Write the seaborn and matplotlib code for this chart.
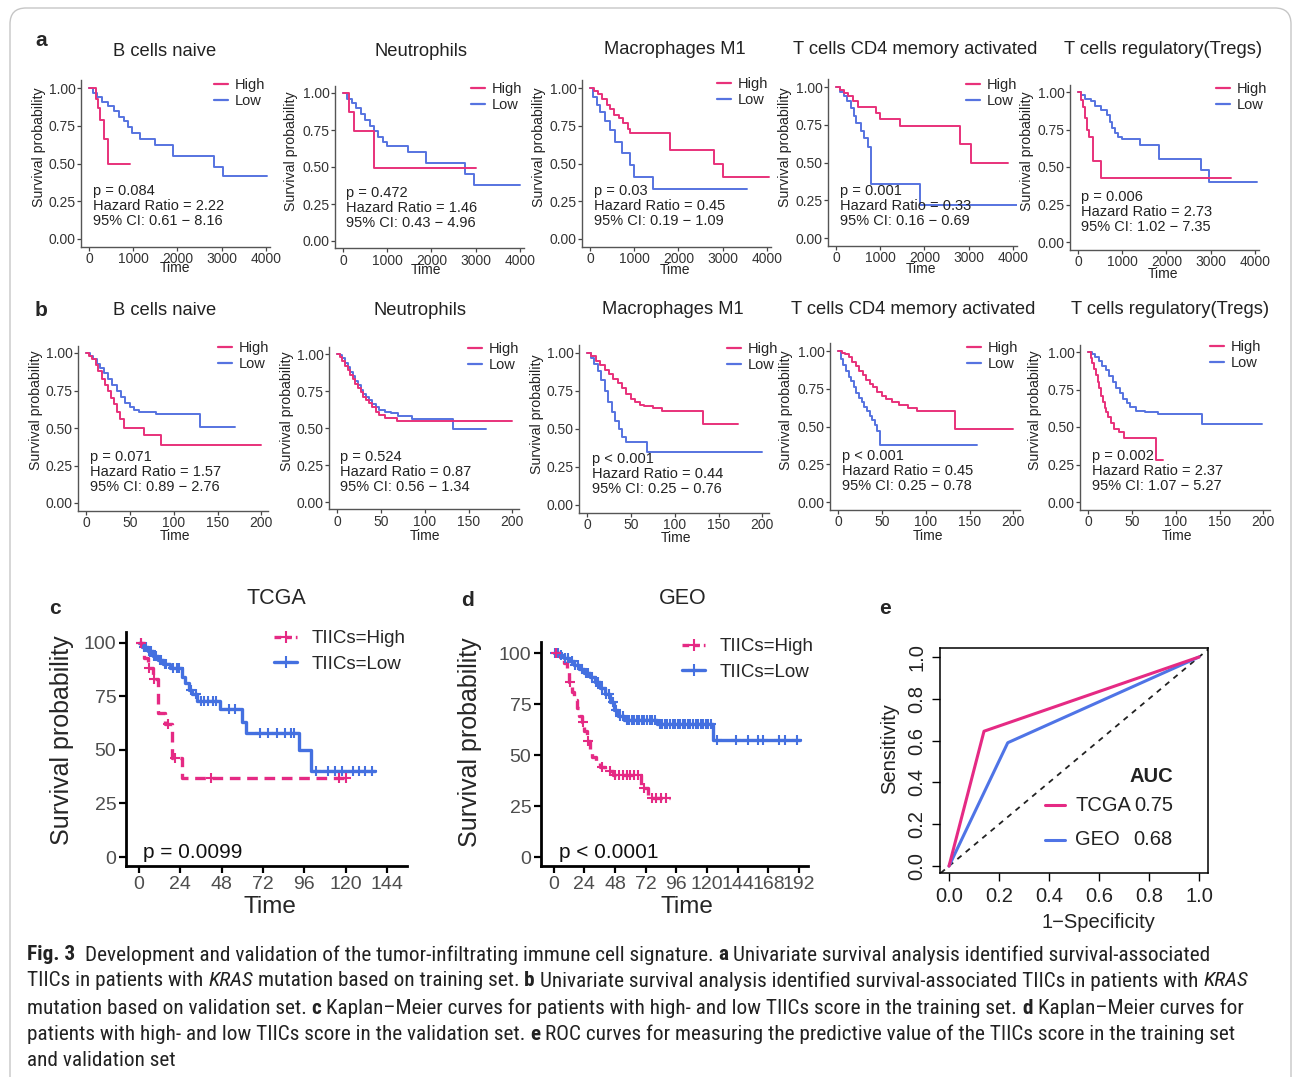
import numpy as np
import pandas as pd
import matplotlib
matplotlib.use("Agg")
import matplotlib.pyplot as plt
import seaborn as sns
from matplotlib.patches import FancyBboxPatch
from matplotlib.lines import Line2D
from matplotlib import font_manager as fm

# ------------------------------------------------------------------ data
CELL_TITLES = ["B cells naive", "Neutrophils", "Macrophages M1",
               "T cells CD4 memory activated", "T cells regulatory(Tregs)"]

# row a (training set), time in days
A1_HIGH_T = [0, 150, 200, 250, 330, 420, 920]
A1_HIGH_S = [1.00, 0.93, 0.87, 0.79, 0.66, 0.50, 0.50]
A1_LOW_T = [0, 80, 180, 300, 420, 560, 680, 790, 880, 980, 1150, 1500, 1900, 2830, 3030, 4020]
A1_LOW_S = [1.00, 0.97, 0.94, 0.91, 0.88, 0.85, 0.81, 0.78, 0.74, 0.70, 0.66, 0.62, 0.55, 0.48, 0.42, 0.42]

A2_HIGH_T = [0, 130, 240, 700, 3015]
A2_HIGH_S = [1.00, 0.87, 0.74, 0.49, 0.49]
A2_LOW_T = [0, 100, 200, 300, 400, 500, 600, 700, 800, 900, 1000, 1460, 1880, 2770, 2960, 4000]
A2_LOW_S = [1.00, 0.96, 0.93, 0.90, 0.86, 0.82, 0.78, 0.74, 0.70, 0.67, 0.64, 0.60, 0.53, 0.45, 0.38, 0.38]

A3_HIGH_T = [0, 80, 180, 280, 380, 450, 550, 650, 750, 850, 900, 1800, 2800, 3000, 4050]
A3_HIGH_S = [1.00, 0.98, 0.96, 0.93, 0.89, 0.86, 0.82, 0.80, 0.77, 0.73, 0.70, 0.59, 0.50, 0.41, 0.41]
A3_LOW_T = [0, 75, 150, 225, 340, 450, 570, 720, 900, 1000, 1430, 3550]
A3_LOW_S = [1.00, 0.94, 0.89, 0.84, 0.78, 0.72, 0.64, 0.57, 0.49, 0.41, 0.33, 0.33]

A4_HIGH_T = [0, 80, 180, 280, 380, 500, 900, 1000, 1450, 2800, 3050, 3900]
A4_HIGH_S = [1.00, 0.98, 0.96, 0.94, 0.91, 0.87, 0.83, 0.79, 0.745, 0.62, 0.50, 0.50]
A4_LOW_T = [0, 90, 170, 250, 330, 400, 450, 560, 640, 720, 800, 1900, 4100]
A4_LOW_S = [1.00, 0.97, 0.94, 0.905, 0.86, 0.81, 0.76, 0.71, 0.66, 0.60, 0.36, 0.22, 0.22]

A5_HIGH_T = [0, 60, 110, 160, 210, 260, 340, 530, 3470]
A5_HIGH_S = [1.00, 0.95, 0.90, 0.83, 0.75, 0.70, 0.54, 0.43, 0.43]
A5_LOW_T = [0, 76, 150, 300, 380, 530, 650, 720, 760, 840, 910, 990, 1410, 1830, 2780, 2970, 4040]
A5_LOW_S = [1.00, 0.98, 0.955, 0.94, 0.91, 0.88, 0.845, 0.80, 0.76, 0.73, 0.70, 0.69, 0.645, 0.555, 0.48, 0.40, 0.40]

A_P = ["p = 0.084", "p = 0.472", "p = 0.03", "p = 0.001", "p = 0.006"]
A_HR = ["2.22", "1.46", "0.45", "0.33", "2.73"]
A_CI = ["0.61 \u2212 8.16", "0.43 \u2212 4.96", "0.19 \u2212 1.09", "0.16 \u2212 0.69", "1.02 \u2212 7.35"]

# row b (validation set), time in months
B1_HIGH_T = [0, 3, 7, 11, 14, 18, 22, 25, 28, 32, 35, 39, 43, 66, 86, 200]
B1_HIGH_S = [1.00, 0.98, 0.96, 0.92, 0.88, 0.83, 0.79, 0.75, 0.70, 0.66, 0.61, 0.56, 0.50, 0.455, 0.39, 0.39]
B1_LOW_T = [0, 4, 8, 12, 16, 20, 25, 30, 35, 40, 45, 50, 55, 60, 80, 130, 170]
B1_LOW_S = [1.00, 0.98, 0.96, 0.93, 0.90, 0.87, 0.83, 0.79, 0.75, 0.71, 0.67, 0.64, 0.62, 0.61, 0.595, 0.51, 0.51]

B2_HIGH_T = [0, 3, 6, 9, 12, 15, 18, 21, 24, 27, 30, 33, 36, 40, 44, 48, 55, 68, 200]
B2_HIGH_S = [1.00, 0.98, 0.95, 0.92, 0.89, 0.86, 0.83, 0.80, 0.77, 0.74, 0.71, 0.69, 0.67, 0.64, 0.61, 0.59, 0.57, 0.55, 0.55]
B2_LOW_T = [0, 3, 6, 9, 12, 15, 18, 21, 24, 27, 30, 33, 36, 40, 44, 48, 55, 62, 70, 85, 132, 170]
B2_LOW_S = [1.00, 0.99, 0.97, 0.94, 0.91, 0.88, 0.85, 0.82, 0.79, 0.76, 0.73, 0.71, 0.69, 0.66, 0.64, 0.62, 0.61, 0.60, 0.58, 0.56, 0.49, 0.49]

B3_HIGH_T = [0, 5, 10, 15, 20, 25, 30, 35, 40, 45, 50, 55, 60, 65, 75, 85, 132, 172]
B3_HIGH_S = [1.00, 0.98, 0.95, 0.92, 0.89, 0.86, 0.83, 0.80, 0.77, 0.73, 0.70, 0.68, 0.66, 0.65, 0.64, 0.62, 0.535, 0.535]
B3_LOW_T = [0, 4, 8, 12, 16, 20, 24, 28, 32, 36, 40, 45, 68, 200]
B3_LOW_S = [1.00, 0.97, 0.93, 0.88, 0.82, 0.75, 0.68, 0.61, 0.55, 0.50, 0.45, 0.415, 0.35, 0.35]

B4_HIGH_T = [0, 4, 8, 12, 16, 20, 24, 28, 32, 36, 40, 45, 50, 55, 62, 70, 80, 90, 133, 200]
B4_HIGH_S = [1.00, 0.99, 0.98, 0.96, 0.93, 0.90, 0.87, 0.84, 0.81, 0.78, 0.76, 0.73, 0.70, 0.68, 0.66, 0.645, 0.625, 0.605, 0.485, 0.485]
B4_LOW_T = [0, 3, 6, 9, 12, 15, 18, 21, 24, 27, 30, 33, 36, 39, 42, 45, 48, 158]
B4_LOW_S = [1.00, 0.95, 0.91, 0.87, 0.83, 0.80, 0.76, 0.72, 0.69, 0.66, 0.63, 0.60, 0.57, 0.54, 0.51, 0.47, 0.375, 0.375]

B5_HIGH_T = [0, 3, 5, 7, 9, 11, 13, 15, 17, 19, 21, 23, 26, 30, 35, 41, 77, 85]
B5_HIGH_S = [1.00, 0.96, 0.93, 0.89, 0.85, 0.80, 0.76, 0.71, 0.67, 0.63, 0.60, 0.57, 0.53, 0.49, 0.47, 0.43, 0.28, 0.28]
B5_LOW_T = [0, 4, 8, 12, 16, 20, 24, 28, 32, 36, 40, 44, 48, 55, 65, 80, 130, 198]
B5_LOW_S = [1.00, 0.99, 0.97, 0.94, 0.91, 0.88, 0.84, 0.80, 0.76, 0.73, 0.69, 0.66, 0.635, 0.61, 0.60, 0.585, 0.52, 0.52]

B_P = ["p = 0.071", "p = 0.524", "p < 0.001", "p < 0.001", "p = 0.002"]
B_HR = ["1.57", "0.87", "0.44", "0.45", "2.37"]
B_CI = ["0.89 \u2212 2.76", "0.56 \u2212 1.34", "0.25 \u2212 0.76", "0.25 \u2212 0.78", "1.07 \u2212 5.27"]

# panel c (TCGA)
C_HIGH_T = [0, 3, 5, 8, 11, 15, 19, 25, 121]
C_HIGH_S = [100, 93, 88, 83, 67, 62, 46, 37, 37]
C_HIGH_CENS = [1, 6, 9, 17, 21, 42, 116, 120]
C_LOW_T = [0, 2, 5, 8, 11, 14, 18, 25, 27, 29, 31, 34, 47, 60, 62, 93, 100, 137]
C_LOW_S = [100, 98, 96, 94, 92, 90, 88, 84, 81, 78, 76, 73, 69, 63, 58, 50, 40, 40]
C_LOW_CENS = [1, 3, 4, 6, 7, 9, 10, 12, 13, 15, 16, 20, 22, 23, 30, 33, 36, 38, 40, 43, 45,
              52, 56, 70, 75, 80, 85, 88, 90, 103, 110, 114, 118, 124, 128, 131, 135]

# panel d (GEO)
D_HIGH_T = [0, 5, 8, 10, 12, 14, 16, 18, 20, 22, 24, 26, 28, 30, 33, 36, 40, 46, 68, 74, 91]
D_HIGH_S = [100, 98, 95, 91, 86, 81, 77, 73, 69, 66, 62, 57, 52, 49, 46, 44, 42, 40, 34, 29, 29]
D_HIGH_CENS = [2, 13, 23, 27, 38, 44, 48, 51, 54, 57, 60, 63, 66, 71, 77, 80, 84, 88]
D_LOW_T = [0, 4, 8, 12, 16, 20, 24, 28, 32, 36, 40, 44, 47, 50, 55, 81, 125, 193]
D_LOW_S = [100, 99, 97.5, 96, 94, 92, 90, 88, 86, 83, 80, 76, 72, 69, 67, 65, 57.5, 57.5]
D_LOW_CENS = [1, 3, 6, 9, 11, 14, 17, 19, 22, 25, 27, 30, 33, 35, 38, 41, 43, 46, 49, 52, 54,
              57, 59, 61, 63, 65, 67, 69, 71, 73, 75, 77, 79, 83, 85, 87, 89, 91, 93, 95, 97,
              99, 101, 103, 105, 107, 109, 111, 113, 115, 117, 119, 121, 123, 128, 143, 152,
              160, 164, 176, 181, 190]

# panel e (ROC)
ROC_TCGA_FPR = [0.0, 0.14, 1.0]
ROC_TCGA_TPR = [0.0, 0.645, 1.0]
ROC_GEO_FPR = [0.0, 0.235, 1.0]
ROC_GEO_TPR = [0.0, 0.59, 1.0]
AUC_NAMES = ["TCGA", "GEO"]
AUC_VALUES = ["0.75", "0.68"]

# ------------------------------------------------------------------ style
W, H = 1293, 1077
sns.set_theme(style="ticks")
plt.rcParams["font.family"] = ["Liberation Sans", "DejaVu Sans"]
plt.rcParams["axes.linewidth"] = 1.0

HIGH_COL = "#E8317A"
LOW_COL = "#5673E0"
C_HIGH = "#E52A84"
C_LOW = "#4470E0"
GREY_TXT = "#4D4D4D"

fig = plt.figure(figsize=(W / 100, H / 100), dpi=100)
fig.patch.set_facecolor("white")


def ftext(x, y, s, **kw):
    return fig.text(x / W, 1 - y / H, s, **kw)


def add_axes_px(l, r, t, b):
    return fig.add_axes([l / W, 1 - b / H, (r - l) / W, (b - t) / H])


def step_value(T, S, t):
    idx = np.searchsorted(np.asarray(T), t, side="right") - 1
    return np.asarray(S)[idx]


# ------------------------------------------------------------------ rows a & b
ROW_A = [(A1_HIGH_T, A1_HIGH_S, A1_LOW_T, A1_LOW_S),
         (A2_HIGH_T, A2_HIGH_S, A2_LOW_T, A2_LOW_S),
         (A3_HIGH_T, A3_HIGH_S, A3_LOW_T, A3_LOW_S),
         (A4_HIGH_T, A4_HIGH_S, A4_LOW_T, A4_LOW_S),
         (A5_HIGH_T, A5_HIGH_S, A5_LOW_T, A5_LOW_S)]
ROW_B = [(B1_HIGH_T, B1_HIGH_S, B1_LOW_T, B1_LOW_S),
         (B2_HIGH_T, B2_HIGH_S, B2_LOW_T, B2_LOW_S),
         (B3_HIGH_T, B3_HIGH_S, B3_LOW_T, B3_LOW_S),
         (B4_HIGH_T, B4_HIGH_S, B4_LOW_T, B4_LOW_S),
         (B5_HIGH_T, B5_HIGH_S, B5_LOW_T, B5_LOW_S)]

layout = {
    "a": dict(x0=[89, 343, 590, 836, 1078], y1=[88, 93, 88, 87, 92], y0=[239, 241, 239, 238, 242],
              sc=0.0442, xlim=(-180, 4090), xticks=[0, 1000, 2000, 3000, 4000],
              title_xy=[(165, 52), (421, 52), (675, 50), (915, 50), (1163, 50)],
              leg_xy=[(214, 78), (471, 82), (717, 77), (966, 78), (1216, 82)],
              txt_xy=[(93, 206), (346, 208), (594, 206), (840, 206), (1081, 212)],
              time_xy=[(175, 268), (426, 270), (675, 270), (921, 269), (1163, 274)],
              ylab_xy=[(39, 147), (291, 151), (539, 147), (785, 147), (1027, 151)],
              data=ROW_A, P=A_P, HR=A_HR, CI=A_CI),
    "b": dict(x0=[86, 337, 587, 838, 1088], y1=[353, 354, 353, 351, 352], y0=[503, 502, 505, 502, 502],
              sc=0.877, xlim=(-9, 207), xticks=[0, 50, 100, 150, 200],
              title_xy=[(165, 311), (420, 311), (673, 310), (913, 310), (1170, 310)],
              leg_xy=[(218, 341), (468, 342), (727, 342), (967, 341), (1210, 340)],
              txt_xy=[(90, 472), (340, 472), (592, 474), (842, 471), (1092, 471)],
              time_xy=[(175, 536), (425, 536), (676, 538), (928, 536), (1177, 536)],
              ylab_xy=[(36, 410), (287, 411), (537, 414), (786, 410), (1035, 410)],
              data=ROW_B, P=B_P, HR=B_HR, CI=B_CI),
}

for row, L in layout.items():
    for i in range(5):
        ht, hs, lt, ls = L["data"][i]
        x0, y1, y0, sc = L["x0"][i], L["y1"][i], L["y0"][i], L["sc"]
        h = y0 - y1
        ax = add_axes_px(x0 + L["xlim"][0] * sc, x0 + L["xlim"][1] * sc, y1 - 0.05 * h, y0 + 0.05 * h)
        sns.lineplot(x=lt, y=ls, ax=ax, color=LOW_COL, lw=1.4, drawstyle="steps-post",
                     estimator=None, sort=False, label="Low")
        sns.lineplot(x=ht, y=hs, ax=ax, color=HIGH_COL, lw=1.4, drawstyle="steps-post",
                     estimator=None, sort=False, label="High")
        ax.set_xlim(*L["xlim"])
        ax.set_ylim(-0.05, 1.05)
        ax.set_xticks(L["xticks"])
        ax.set_xticklabels([str(t) for t in L["xticks"]])
        ax.set_yticks([0, 0.25, 0.5, 0.75, 1.0])
        ax.set_yticklabels(["0.00", "0.25", "0.50", "0.75", "1.00"])
        ax.set_xlabel("")
        ax.set_ylabel("")
        sns.despine(ax=ax)
        for sp in ("left", "bottom"):
            ax.spines[sp].set_color("#555555")
            ax.spines[sp].set_linewidth(1.0)
        ax.tick_params(length=3, width=0.9, color="#444444", labelsize=10, labelcolor="#333333", pad=1)
        ax.get_legend().remove()
        handles = [Line2D([], [], color=HIGH_COL, lw=1.6), Line2D([], [], color=LOW_COL, lw=1.6)]
        lx, ly = L["leg_xy"][i]
        ax.legend(handles, ["High", "Low"], loc="upper left", bbox_to_anchor=(lx / W, 1 - ly / H),
                  bbox_transform=fig.transFigure, frameon=False, fontsize=10.5, handlelength=0.95,
                  handletextpad=0.45, labelspacing=0.12, borderpad=0, borderaxespad=0)
        tx, ty = L["txt_xy"][i]
        ftext(tx, ty, f"{L['P'][i]}\nHazard Ratio = {L['HR'][i]}\n95% CI: {L['CI'][i]}",
              fontsize=10.5, va="center", ha="left", linespacing=1.05, color="#222222")
        ttx, tty = L["title_xy"][i]
        ftext(ttx, tty, CELL_TITLES[i], fontsize=13.2, ha="center", va="center", color="#222222")
        mx, my = L["time_xy"][i]
        ftext(mx, my, "Time", fontsize=10, ha="center", va="center", color="#222222")
        yx, yy = L["ylab_xy"][i]
        ftext(yx, yy, "Survival probability", fontsize=10.2, ha="center", va="center",
              rotation=90, color="#222222")


# ------------------------------------------------------------------ panels c & d
def big_km(l, r, t, b, xlim, ylim, xticks, ht, hs, hc, lt, ls, lc, ptxt, pxy, leg_xy):
    ax = add_axes_px(l, r, t, b)
    sns.lineplot(x=lt, y=ls, ax=ax, color=C_LOW, lw=2.4, drawstyle="steps-post",
                 estimator=None, sort=False)
    sns.scatterplot(x=lc, y=step_value(lt, ls, np.asarray(lc)), ax=ax, color=C_LOW, marker="+",
                    s=55, linewidth=1.5, zorder=4)
    sns.lineplot(x=ht, y=hs, ax=ax, color=C_HIGH, lw=2.4, drawstyle="steps-post",
                 estimator=None, sort=False, linestyle=(0, (3.2, 2.0)))
    sns.scatterplot(x=hc, y=step_value(ht, hs, np.asarray(hc)), ax=ax, color=C_HIGH, marker="+",
                    s=55, linewidth=1.5, zorder=4)
    ax.set_xlim(*xlim)
    ax.set_ylim(*ylim)
    ax.set_xticks(xticks)
    ax.set_xticklabels([str(v) for v in xticks])
    ax.set_yticks([0, 25, 50, 75, 100])
    ax.set_yticklabels(["0", "25", "50", "75", "100"])
    ax.set_xlabel("")
    ax.set_ylabel("")
    sns.despine(ax=ax)
    for sp in ("left", "bottom"):
        ax.spines[sp].set_color("black")
        ax.spines[sp].set_linewidth(2.0)
    ax.tick_params(length=5, width=1.6, color="black", labelsize=14, labelcolor=GREY_TXT, pad=2)
    handles = [Line2D([], [], color=C_HIGH, lw=2.4, ls=(0, (2.0, 1.2)), marker="+", ms=8, mew=1.5),
               Line2D([], [], color=C_LOW, lw=2.4, marker="+", ms=8, mew=1.5)]
    ax.legend(handles, ["TIICs=High", "TIICs=Low"], loc="upper left",
              bbox_to_anchor=(leg_xy[0] / W, 1 - leg_xy[1] / H), bbox_transform=fig.transFigure,
              frameon=False, fontsize=13.5, handlelength=1.25, handletextpad=0.75,
              labelspacing=0.45, borderpad=0, borderaxespad=0)
    ftext(pxy[0], pxy[1], ptxt, fontsize=15, ha="left", va="center", color="#111111")
    return ax


big_km(126, 407, 632, 866, (-7.5, 155.6), (-4.2, 105), [0, 24, 48, 72, 96, 120, 144],
       C_HIGH_T, C_HIGH_S, C_HIGH_CENS, C_LOW_T, C_LOW_S, C_LOW_CENS,
       "p = 0.0099", (143, 853), (274, 630))
ftext(276, 598, "TCGA", fontsize=15.5, ha="center", va="center")
ftext(270, 907, "Time", fontsize=17.5, ha="center", va="center")
ftext(62, 740, "Survival probability", fontsize=18, ha="center", va="center", rotation=90)

big_km(541, 808, 642, 866, (-10, 199), (-4.4, 105.4), [0, 24, 48, 72, 96, 120, 144, 168, 192],
       D_HIGH_T, D_HIGH_S, D_HIGH_CENS, D_LOW_T, D_LOW_S, D_LOW_CENS,
       "p < 0.0001", (559, 853), (682, 638))
ftext(683, 598, "GEO", fontsize=15.5, ha="center", va="center")
ftext(687, 907, "Time", fontsize=17.5, ha="center", va="center")
ftext(470, 742, "Survival probability", fontsize=18, ha="center", va="center", rotation=90)

# ------------------------------------------------------------------ panel e (ROC)
axe = add_axes_px(940, 1208, 648, 873)
axe.axline((0, 0), (1, 1), color="#222222", lw=1.3, ls=(0, (3, 3)), zorder=1)
sns.lineplot(x=ROC_GEO_FPR, y=ROC_GEO_TPR, ax=axe, color="#4F74E6", lw=2.2, estimator=None, sort=False)
sns.lineplot(x=ROC_TCGA_FPR, y=ROC_TCGA_TPR, ax=axe, color="#E52A84", lw=2.2, estimator=None, sort=False)
axe.set_xlim(-0.036, 1.036)
axe.set_ylim(-0.033, 1.043)
ticks = [0, 0.2, 0.4, 0.6, 0.8, 1.0]
axe.set_xticks(ticks)
axe.set_xticklabels([f"{v:.1f}" for v in ticks])
axe.set_yticks(ticks)
axe.set_yticklabels([f"{v:.1f}" for v in ticks], rotation=90, va="center")
axe.set_xlabel("")
axe.set_ylabel("")
for sp in axe.spines.values():
    sp.set_color("black")
    sp.set_linewidth(1.1)
axe.tick_params(length=6, width=1.0, color="black", labelsize=14.5, labelcolor="#222222", pad=4)
roc_cols = ["#E52A84", "#4F74E6"]
roc_y = [0.302, 0.147]
for name, val, col, yy in zip(AUC_NAMES, AUC_VALUES, roc_cols, roc_y):
    axe.plot([0.392, 0.466], [yy, yy], transform=axe.transAxes, color=col, lw=2.2)
    axe.text(0.504, yy, name, transform=axe.transAxes, fontsize=14.5, va="center", ha="left", color="#222222")
    axe.text(0.869, yy, val, transform=axe.transAxes, fontsize=14.5, va="center", ha="right", color="#222222")
axe.text(0.869, 0.431, "AUC", transform=axe.transAxes, fontsize=14.5, va="center", ha="right",
         weight="bold", color="#222222")
ftext(1098, 923, "1\u2212Specificity", fontsize=14.5, ha="center", va="center", color="#222222")
ftext(890, 749, "Sensitivity", fontsize=14.5, ha="center", va="center", rotation=90, color="#222222")

# ------------------------------------------------------------------ panel letters
for letter, (x, y) in zip("abcde", [(41, 40), (41, 311), (55, 608), (468, 601), (885, 609)]):
    ftext(x, y, letter, fontsize=15, weight="bold", ha="center", va="center")

# ------------------------------------------------------------------ border
border = FancyBboxPatch((0.10, -0.6), 12.81, 10.69 + 0.6,
                        boxstyle="round,pad=0,rounding_size=0.16",
                        transform=fig.dpi_scale_trans, fill=False, ec="#c6c6c6", lw=1.0)
fig.add_artist(border)

# ------------------------------------------------------------------ caption
def has_font(name):
    try:
        path = fm.findfont(fm.FontProperties(family=name), fallback_to_default=False)
        return bool(path)
    except Exception:
        return False


CAP_FONT = "Liberation Sans"
for cand in ["Liberation Sans Narrow", "DejaVu Sans Condensed", "Roboto Condensed",
             "Open Sans Condensed", "Noto Sans Condensed"]:
    if has_font(cand):
        CAP_FONT = cand
        break

N, B, I = ("normal", "normal"), ("bold", "normal"), ("normal", "italic")
CAPTION = [
    [("Fig. 3", B), ("  Development and validation of the tumor-infiltrating immune cell signature. ", N),
     ("a", B), (" Univariate survival analysis identified survival-associated", N)],
    [("TIICs in patients with ", N), ("KRAS", I), (" mutation based on training set. ", N), ("b", B),
     (" Univariate survival analysis identified survival-associated TIICs in patients with ", N), ("KRAS", I)],
    [("mutation based on validation set. ", N), ("c", B),
     (" Kaplan\u2013Meier curves for patients with high- and low TIICs score in the training set. ", N),
     ("d", B), (" Kaplan\u2013Meier curves for", N)],
    [("patients with high- and low TIICs score in the validation set. ", N), ("e", B),
     (" ROC curves for measuring the predictive value of the TIICs score in the training set", N)],
    [("and validation set", N)],
]
CAP_RIGHT = [1229, 1240, 1249, 1240]
CAP_Y = [955, 981, 1008, 1034, 1060]
renderer = fig.canvas.get_renderer()


def text_w(s, size, weight="normal", style="normal"):
    t = fig.text(0, 0, s, fontsize=size, family=CAP_FONT, weight=weight, style=style)
    w = t.get_window_extent(renderer).width
    t.remove()
    return w


def draw_rich(x0, y, segs, size, do_draw=True):
    sp = text_w("a a", size) - text_w("aa", size)
    x = x0
    for txt, (wt, st) in segs:
        lead = len(txt) - len(txt.lstrip(" "))
        trail = len(txt) - len(txt.rstrip(" "))
        x += lead * sp
        core = txt.strip(" ")
        t = fig.text(x / W, 1 - y / H, core, fontsize=size, family=CAP_FONT, weight=wt, style=st,
                     va="center", ha="left", color="#222222")
        x = t.get_window_extent(renderer).x1 + trail * sp
        if not do_draw:
            t.remove()
    return x


ratios = []
for segs, right in zip(CAPTION[:4], CAP_RIGHT):
    wline = draw_rich(27, 0, segs, 10, do_draw=False) - 27
    ratios.append((right - 27) / wline)
cap_size = 10 * min(ratios)
for segs, yy in zip(CAPTION, CAP_Y):
    draw_rich(27, yy, segs, cap_size)

fig.savefig("out.png", dpi=100)
